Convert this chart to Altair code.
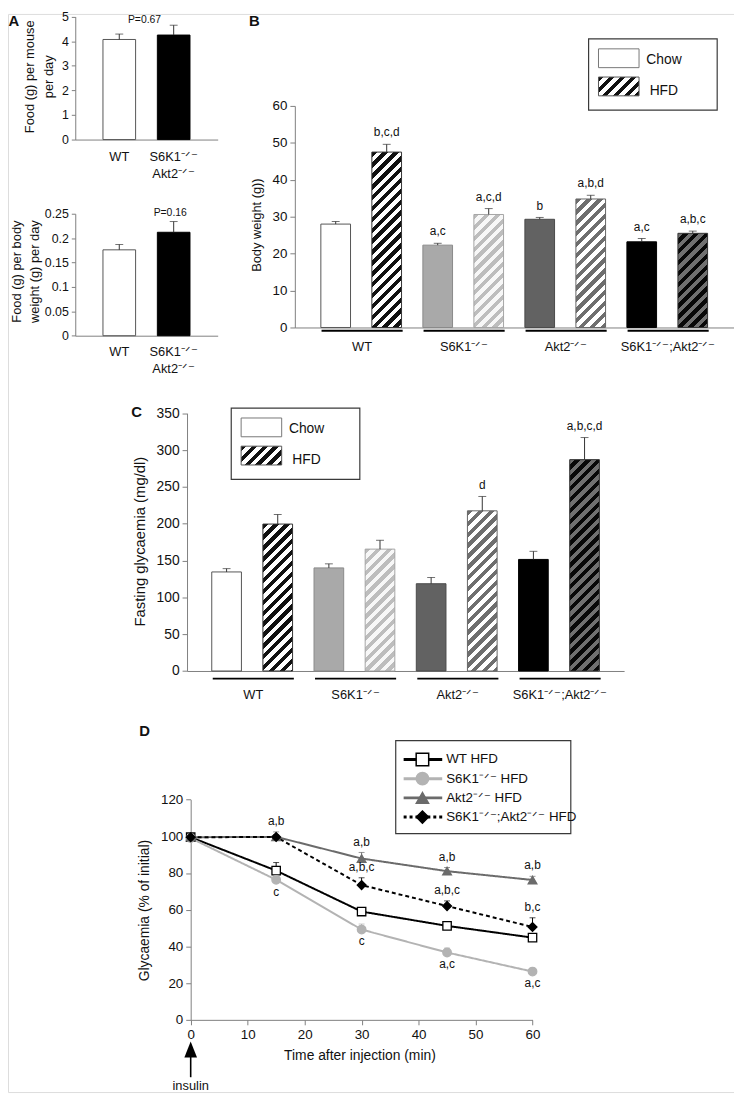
import altair as alt
import pandas as pd

FONT = "Liberation Sans"
W, H = 734, 1090          # view size; page is 742x1098 with an 8px margin
M = 8
GRAY = "#808080"
INK = "#111111"


def L(v):
    """page pixel -> view pixel"""
    return v - M


SUP = "\u207b\u141f\u207b"  # superscript -/-

# ---------------- data ----------------
# Panel A
a_groups = ["WT", "S6K1" + SUP + "|Akt2" + SUP]
a_food_mouse = [4.07, 4.25]
a_food_mouse_err = [0.22, 0.40]
a_food_bw = [0.176, 0.212]
a_food_bw_err = [0.011, 0.022]
a_pvalues = ["P=0.67", "P=0.16"]

# Panels B and C
genotypes = ["WT", "S6K1" + SUP, "Akt2" + SUP, "S6K1" + SUP + ";Akt2" + SUP]
diets = ["Chow", "HFD"]

b_chow = [28.0, 22.3, 29.3, 23.2]
b_chow_err = [0.7, 0.5, 0.5, 0.9]
b_hfd = [47.5, 30.6, 34.8, 25.5]
b_hfd_err = [2.1, 1.6, 1.0, 0.6]
b_chow_sig = ["", "a,c", "b", "a,c"]
b_hfd_sig = ["b,c,d", "a,c,d", "a,b,d", "a,b,c"]

c_chow = [134.5, 140.0, 118.5, 151.5]
c_chow_err = [4.5, 5.5, 8.5, 11.0]
c_hfd = [199.5, 165.5, 217.5, 287.0]
c_hfd_err = [13.0, 12.0, 19.5, 30.0]
c_chow_sig = ["", "", "", ""]
c_hfd_sig = ["", "", "d", "a,b,c,d"]

# Panel D
d_time = [0, 15, 30, 45, 60]
d_series = ["WT HFD", "S6K1" + SUP + " HFD", "Akt2" + SUP + " HFD",
            "S6K1" + SUP + ";Akt2" + SUP + " HFD"]
d_wt = [99.5, 81.3, 59.0, 51.2, 44.8]
d_wt_err = [0, 4.4, 1.8, 1.5, 1.6]
d_s6k1 = [99.0, 76.3, 49.2, 36.7, 26.3]
d_s6k1_err = [0, 1.5, 3.0, 2.4, 1.8]
d_akt2 = [99.5, 99.7, 87.9, 81.0, 76.2]
d_akt2_err = [0, 2.7, 3.3, 2.0, 2.0]
d_dko = [99.5, 99.6, 73.4, 62.0, 50.6]
d_dko_err = [0, 1.2, 4.0, 2.8, 5.0]

d_ann_time = [15, 15, 30, 30, 30, 45, 45, 45, 60, 60, 60]
d_ann_series = [2, 1, 2, 3, 1, 2, 3, 1, 2, 3, 1]
d_ann_text = ["a,b", "c", "a,b", "a,b,c", "c", "a,b", "a,b,c", "a,c", "a,b", "b,c", "a,c"]
d_ann_above = [True, False, True, True, False, True, True, False, True, True, False]

# ---------------- styles ----------------
chow_fill = ["#ffffff", "#a9a9a9", "#626262", "#000000"]
chow_stroke = ["#555555", "#8a8a8a", "#4a4a4a", "#000000"]
hfd_dark = ["#111111", "#bdbdbd", "#6e6e6e", "#707070"]
hfd_light = ["#ffffff", "#f7f7f7", "#ffffff", "#080808"]
hfd_stroke = ["#333333", "#a5a5a5", "#666666", "#333333"]

d_colors = ["#000000", "#b3b3b3", "#6b6b6b", "#000000"]
d_fill = ["#ffffff", "#b3b3b3", "#6b6b6b", "#000000"]
d_pstroke = ["#000000", "#b3b3b3", "#6b6b6b", "#000000"]
d_dash = [[1, 0], [1, 0], [1, 0], [4, 3]]
d_width = [2, 2, 2, 2.5]
d_shapes = ["square", "circle", "triangle-up", "diamond"]
d_sizes = [72, 80, 100, 80]


def hatch(w, h, dark, light, period=11.0):
    """diagonal '/' stripes as a hard-stop linear gradient in bbox units"""
    tot = w + h
    k = tot / (w * w + h * h)
    stops = []
    i = 0
    while i * period / tot < 1:
        o0 = i * period / tot
        o1 = min((i + 0.5) * period / tot, 1)
        o2 = min((i + 1) * period / tot, 1)
        stops += [{"offset": round(o0, 5), "color": dark},
                  {"offset": round(o1, 5), "color": dark},
                  {"offset": round(o1, 5), "color": light},
                  {"offset": round(o2, 5), "color": light}]
        i += 1
    return {"gradient": "linear", "x1": 0, "y1": 0,
            "x2": round(k * w, 5), "y2": round(k * h, 5), "stops": stops}


def left_axis(axis_px, values, title, title_cx, title_cy, label_size, title_size,
              fmt=None, line_height=None, tick=5):
    kw = dict(orient="left", offset=-L(axis_px), values=values, grid=False,
              domainColor=GRAY, domainWidth=1, tickColor=GRAY, tickWidth=1, tickSize=tick,
              labelPadding=3, labelFontSize=label_size, labelColor=INK, labelFont=FONT,
              labelFlush=False, labelOverlap=False,
              title=title, titleFontSize=title_size, titleFontWeight="normal",
              titleColor=INK, titleFont=FONT, titleAngle=270, titleAlign="center",
              titleBaseline="middle", titleX=title_cx - axis_px, titleY=L(title_cy))
    if fmt:
        kw["format"] = fmt
    if line_height:
        kw["titleLineHeight"] = line_height
    return alt.Axis(**kw)


def base_axis(axis_py):
    return alt.Axis(orient="bottom", offset=L(axis_py) - H, labels=False, ticks=False,
                    domain=True, domainColor=GRAY, domainWidth=1, title=None, grid=False)


def band(r0, first_start, bw, step, n):
    pi = 1 - bw / step
    po = (first_start - r0) / step
    r1 = r0 + step * (n - pi + 2 * po)
    return pi, po, r1


def text_at(txt, x, y, size, weight="normal", align="center"):
    return alt.Chart(pd.DataFrame({"t": [txt]})).mark_text(
        fontSize=size, fontWeight=weight, align=align, baseline="middle", color=INK, font=FONT
    ).encode(x=alt.value(L(x)), y=alt.value(L(y)), text="t:N")


layers = []

# ================= Panel A =================
pi, po, r1 = band(76, 104, 33, 55, 2)
a_x = alt.Scale(domain=a_groups, range=[L(76), L(r1)], paddingInner=pi, paddingOuter=po)


def a_panel(vals, errs, ymax, yvals, y_bottom, y_top, title, title_x1, title_cy,
            fmt, ptext, px, py, label_top, lh):
    df = pd.DataFrame({"g": a_groups, "v": vals, "top": [v + e for v, e in zip(vals, errs)]})
    ys = alt.Scale(domain=[0, ymax], range=[L(y_bottom), L(y_top)], nice=False)
    xa = base_axis(y_bottom)
    # title_x1: centre of the first title line (further lines stack to the right)
    ya = left_axis(76, yvals, title, title_x1, title_cy, 12.5, 13, fmt=fmt, line_height=lh, tick=4)
    X = lambda: alt.X("g:N", scale=a_x, axis=xa)
    base = alt.Chart(df)
    bars = base.mark_bar(strokeWidth=1).encode(
        x=X(), y=alt.Y("v:Q", scale=ys, axis=ya),
        fill=alt.Fill("g:N", scale=alt.Scale(domain=a_groups, range=["#ffffff", "#000000"]), legend=None),
        stroke=alt.Stroke("g:N", scale=alt.Scale(domain=a_groups, range=["#555555", "#000000"]), legend=None),
    )
    err = base.mark_rule(color="#333333", strokeWidth=1).encode(
        x=X(), y=alt.Y("v:Q", scale=ys, axis=ya), y2="top:Q")
    cap = base.mark_tick(orient="horizontal", size=8, thickness=1, color="#333333").encode(
        x=X(), y=alt.Y("top:Q", scale=ys, axis=ya))
    labs = base.mark_text(fontSize=13, baseline="top", lineBreak="|", lineHeight=17,
                          color=INK, font=FONT).encode(
        x=X(), y=alt.value(L(label_top)), text="g:N")
    p = text_at(ptext, px, py, 10.5)
    return alt.layer(bars, err, cap, labs, p)


layers.append(a_panel(a_food_mouse, a_food_mouse_err, 5, [0, 1, 2, 3, 4, 5], 135, 10.7,
                      ["Food (g) per mouse", "per day"], 30, 71, None,
                      a_pvalues[0], 146, 14, 146.5, 19))
layers.append(a_panel(a_food_bw, a_food_bw_err, 0.25, [0, 0.05, 0.1, 0.15, 0.2, 0.25], 333.3, 210,
                      ["Food (g) per body", "weight (g) per day"], 16.5, 268, "~g",
                      a_pvalues[1], 172, 209, 344, 18))


# ================= Panels B and C =================
def bar_panel(chow, chow_err, hfd, hfd_err, chow_sig, hfd_sig, ymax, yvals,
              axis_x, bar_start, step, y_bottom, y_top, title, title_cx, title_cy,
              label_size, title_size, group_start, under_y, label_y):
    rows = []
    for i, g in enumerate(genotypes):
        rows.append(dict(g=g, d="Chow", key=g + " Chow", v=chow[i], top=chow[i] + chow_err[i], sig=chow_sig[i]))
        rows.append(dict(g=g, d="HFD", key=g + " HFD", v=hfd[i], top=hfd[i] + hfd_err[i], sig=hfd_sig[i]))
    df = pd.DataFrame(rows)
    keys = list(df["key"])
    bw = 30
    pi_, po_, r1_ = band(axis_x, bar_start, bw, step, 8)
    xs = alt.Scale(domain=keys, range=[L(axis_x), L(r1_)], paddingInner=pi_, paddingOuter=po_)
    ys = alt.Scale(domain=[0, ymax], range=[L(y_bottom), L(y_top)], nice=False)
    xa = base_axis(y_bottom)
    ya = left_axis(axis_x, yvals, title, title_cx, title_cy, label_size, title_size)
    pxu = (y_bottom - y_top) / ymax
    base = alt.Chart(df)
    X = lambda: alt.X("key:N", scale=xs, axis=xa)
    Y = lambda f: alt.Y(f, scale=ys, axis=ya)
    chow_keys = keys[0::2]
    bars = base.transform_filter(alt.FieldEqualPredicate(field="d", equal="Chow")).mark_bar(
        strokeWidth=1).encode(
        x=X(), y=Y("v:Q"),
        fill=alt.Fill("key:N", scale=alt.Scale(domain=chow_keys, range=chow_fill), legend=None),
        stroke=alt.Stroke("key:N", scale=alt.Scale(domain=chow_keys, range=chow_stroke), legend=None),
    )
    hatched = []
    for i in range(len(genotypes)):
        k = keys[2 * i + 1]
        hatched.append(base.transform_filter(alt.FieldEqualPredicate(field="key", equal=k)).mark_bar(
            fill=hatch(bw, hfd[i] * pxu, hfd_dark[i], hfd_light[i]),
            stroke=hfd_stroke[i], strokeWidth=1).encode(x=X(), y=Y("v:Q")))
    err = base.mark_rule(color="#333333", strokeWidth=1).encode(x=X(), y=Y("v:Q"), y2="top:Q")
    cap = base.mark_tick(orient="horizontal", size=8, thickness=1, color="#333333").encode(
        x=X(), y=Y("top:Q"))
    sig = base.mark_text(dy=-12, fontSize=12, color=INK, font=FONT, baseline="middle").encode(
        x=X(), y=Y("top:Q"), text="sig:N")
    panel = alt.layer(bars, *hatched, err, cap, sig)

    gpi, gpo, gr1 = band(axis_x, group_start, 82, 2 * step, 4)
    gs = alt.Scale(domain=genotypes, range=[L(axis_x), L(gr1)], paddingInner=gpi, paddingOuter=gpo)
    gdf = pd.DataFrame({"g": genotypes})
    under = alt.Chart(gdf).mark_rect(color="#000000").encode(
        x=alt.X("g:N", scale=gs, axis=None), y=alt.value(L(under_y)), y2=alt.value(L(under_y + 2)))
    glab = alt.Chart(gdf).mark_text(fontSize=13, baseline="middle", color=INK, font=FONT).encode(
        x=alt.X("g:N", scale=gs, axis=None), y=alt.value(L(label_y)), text="g:N")
    return [panel, alt.layer(under, glab)]


def diet_legend(bx, by):
    one = pd.DataFrame({"k": [0]})
    box = alt.Chart(one).mark_rect(fill="#ffffff", stroke="#3a3a3a", strokeWidth=1.2).encode(
        x=alt.value(L(bx)), x2=alt.value(L(bx + 130)), y=alt.value(L(by)), y2=alt.value(L(by + 72)))
    sw1 = alt.Chart(one).mark_rect(fill="#ffffff", stroke="#777777", strokeWidth=1).encode(
        x=alt.value(L(bx + 10)), x2=alt.value(L(bx + 51)), y=alt.value(L(by + 10)), y2=alt.value(L(by + 29)))
    sw2 = alt.Chart(one).mark_rect(fill=hatch(41, 19, "#111111", "#ffffff"), stroke="#555555",
                                   strokeWidth=1).encode(
        x=alt.value(L(bx + 10)), x2=alt.value(L(bx + 51)), y=alt.value(L(by + 38.5)), y2=alt.value(L(by + 57.5)))
    t1 = text_at(diets[0], bx + 58.3, by + 21, 14, align="left")
    t2 = text_at(diets[1], bx + 61.7, by + 52.4, 14, align="left")
    return alt.layer(box, sw1, sw2, t1, t2)


layers += bar_panel(b_chow, b_chow_err, b_hfd, b_hfd_err, b_chow_sig, b_hfd_sig, 60,
                    [0, 10, 20, 30, 40, 50, 60], 298, 324.3, 51.57, 325, 101,
                    "Body weight (g))", 258.8, 221, 13.5, 13, 325, 327.3, 345)
layers.append(diet_legend(595, 33.3))

layers += bar_panel(c_chow, c_chow_err, c_hfd, c_hfd_err, c_chow_sig, c_hfd_sig, 350,
                    [0, 50, 100, 150, 200, 250, 300, 350], 189, 214, 51.7, 672.3, 411.7,
                    "Fasting glycaemia (mg/dl)", 141.5, 541, 14, 15, 215, 679, 697)
layers.append(diet_legend(233.7, 406.5))

# ================= Panel D =================
rows = []
for s, vals, errs in zip(d_series, [d_wt, d_s6k1, d_akt2, d_dko],
                         [d_wt_err, d_s6k1_err, d_akt2_err, d_dko_err]):
    for t, v, e in zip(d_time, vals, errs):
        rows.append(dict(series=s, t=t, v=v, top=v + e, err=e))
ddf = pd.DataFrame(rows)

dxs = alt.Scale(domain=[0, 60], range=[L(192.7), L(538.3)], nice=False, zero=False)
dys = alt.Scale(domain=[0, 120], range=[L(1025), L(802.3)], nice=False)
col = alt.Scale(domain=d_series, range=d_colors)

x_axis_d = alt.Axis(orient="bottom", offset=L(1025) - H, values=[0, 10, 20, 30, 40, 50, 60],
                    grid=False, domainColor=GRAY, tickColor=GRAY, tickSize=5, labelPadding=3,
                    labelFontSize=13.5, labelColor=INK, labelFont=FONT, labelFlush=False,
                    labelOverlap=False, title="Time after injection (min)", titleFontSize=14,
                    titleFontWeight="normal", titleColor=INK, titleFont=FONT,
                    titleBaseline="middle", titleAlign="center", titleX=L(363.3), titleY=36)
y_axis_d = left_axis(192.7, [0, 20, 40, 60, 80, 100, 120], "Glycaemia (% of initial)",
                     146, 914, 13.5, 14)
DX = lambda: alt.X("t:Q", scale=dxs, axis=x_axis_d)
DY = lambda f: alt.Y(f, scale=dys, axis=y_axis_d)

lines = alt.Chart(ddf).mark_line().encode(
    x=DX(), y=DY("v:Q"),
    color=alt.Color("series:N", scale=col, legend=None),
    strokeDash=alt.StrokeDash("series:N", scale=alt.Scale(domain=d_series, range=d_dash), legend=None),
    strokeWidth=alt.StrokeWidth("series:N", scale=alt.Scale(domain=d_series, range=d_width), legend=None),
)
derr = alt.Chart(ddf).transform_filter("datum.err > 0").mark_rule(strokeWidth=1).encode(
    x=DX(), y=DY("v:Q"), y2="top:Q",
    color=alt.Color("series:N", scale=col, legend=None))
dcap = alt.Chart(ddf).transform_filter("datum.err > 0").mark_tick(
    orient="horizontal", size=6, thickness=1).encode(
    x=DX(), y=DY("top:Q"),
    color=alt.Color("series:N", scale=col, legend=None))
dpts = alt.Chart(ddf).mark_point(filled=True, opacity=1, strokeWidth=1.3).encode(
    x=DX(), y=DY("v:Q"),
    shape=alt.Shape("series:N", scale=alt.Scale(domain=d_series, range=d_shapes), legend=None),
    fill=alt.Fill("series:N", scale=alt.Scale(domain=d_series, range=d_fill), legend=None),
    stroke=alt.Stroke("series:N", scale=alt.Scale(domain=d_series, range=d_pstroke), legend=None),
    size=alt.Size("series:N", scale=alt.Scale(domain=d_series, range=d_sizes), legend=None),
)

series_vals = [d_wt, d_s6k1, d_akt2, d_dko]
series_errs = [d_wt_err, d_s6k1_err, d_akt2_err, d_dko_err]
ann = []
for t, si, txt, above in zip(d_ann_time, d_ann_series, d_ann_text, d_ann_above):
    i = d_time.index(t)
    v = series_vals[si][i]
    ann.append(dict(t=t, y=v + series_errs[si][i] if above else v, text=txt, above=above))
adf = pd.DataFrame(ann)
ann_up = alt.Chart(adf).transform_filter("datum.above").mark_text(
    dy=-11, fontSize=12, color=INK, font=FONT, baseline="middle").encode(
    x=DX(), y=DY("y:Q"), text="text:N")
ann_dn = alt.Chart(adf).transform_filter("!datum.above").mark_text(
    dy=12, fontSize=12, color=INK, font=FONT, baseline="middle").encode(
    x=DX(), y=DY("y:Q"), text="text:N")

ins = pd.DataFrame({"t": [0], "label": ["insulin"]})
shaft = alt.Chart(ins).mark_rule(color="#000000", strokeWidth=1.6).encode(
    x=DX(), y=alt.value(L(1060)), y2=alt.value(L(1083)))
head = alt.Chart(ins).mark_point(shape="M0,-1L0.8,1L-0.8,1Z", filled=True, color="#000000",
                                 opacity=1, size=256).encode(x=DX(), y=alt.value(L(1055)))
ins_lab = alt.Chart(ins).mark_text(fontSize=13, baseline="middle", color=INK, font=FONT).encode(
    x=DX(), y=alt.value(L(1092)), text="label:N")

layers.append(alt.layer(lines, derr, dcap, dpts, ann_up, ann_dn, shaft, head, ins_lab))

# Panel D legend
ldf = pd.DataFrame({"series": d_series})
ly = alt.Scale(type="point", domain=d_series, range=[L(761.7), L(820)], padding=0)
lbox = alt.Chart(pd.DataFrame({"k": [0]})).mark_rect(fill="#ffffff", stroke="#3a3a3a",
                                                     strokeWidth=1.2).encode(
    x=alt.value(L(400)), x2=alt.value(L(577)), y=alt.value(L(742.7)), y2=alt.value(L(836.7)))
lrule = alt.Chart(ldf).mark_rule(strokeWidth=3).encode(
    x=alt.value(L(408)), x2=alt.value(L(447)), y=alt.Y("series:N", scale=ly, axis=None),
    color=alt.Color("series:N", scale=col, legend=None),
    strokeDash=alt.StrokeDash("series:N", scale=alt.Scale(domain=d_series, range=[[1, 0], [1, 0], [1, 0], [3, 3]]),
                              legend=None))
lpt = alt.Chart(ldf).mark_point(filled=True, opacity=1, strokeWidth=1.5).encode(
    x=alt.value(L(427)), y=alt.Y("series:N", scale=ly, axis=None),
    shape=alt.Shape("series:N", scale=alt.Scale(domain=d_series, range=d_shapes), legend=None),
    fill=alt.Fill("series:N", scale=alt.Scale(domain=d_series, range=d_fill), legend=None),
    stroke=alt.Stroke("series:N", scale=alt.Scale(domain=d_series, range=d_pstroke), legend=None),
    size=alt.Size("series:N", scale=alt.Scale(domain=d_series, range=[160, 150, 190, 150]), legend=None))
ltxt = alt.Chart(ldf).mark_text(align="left", baseline="middle", fontSize=13.5, color=INK,
                                font=FONT).encode(
    x=alt.value(L(451)), y=alt.Y("series:N", scale=ly, axis=None), text="series:N")
layers.append(alt.layer(lbox, lrule, lpt, ltxt))

# panel letters
for letter, (lx, lyy) in zip(["A", "B", "C", "D"], [(14, 15), (257, 15), (138, 410), (146, 733)]):
    layers.append(text_at(letter, lx, lyy, 15, weight="bold"))

chart = alt.layer(*layers).resolve_scale(
    x="independent", y="independent", color="independent", fill="independent",
    stroke="independent", shape="independent", size="independent",
    strokeDash="independent", strokeWidth="independent",
).resolve_axis(x="independent", y="independent").properties(
    width=W, height=H, padding=0, autosize=alt.AutoSizeParams(type="none"),
).configure_view(stroke="transparent", strokeWidth=0).configure(font=FONT, background="white")

chart.save("out.html", embed_options={"renderer": "svg", "actions": False})
